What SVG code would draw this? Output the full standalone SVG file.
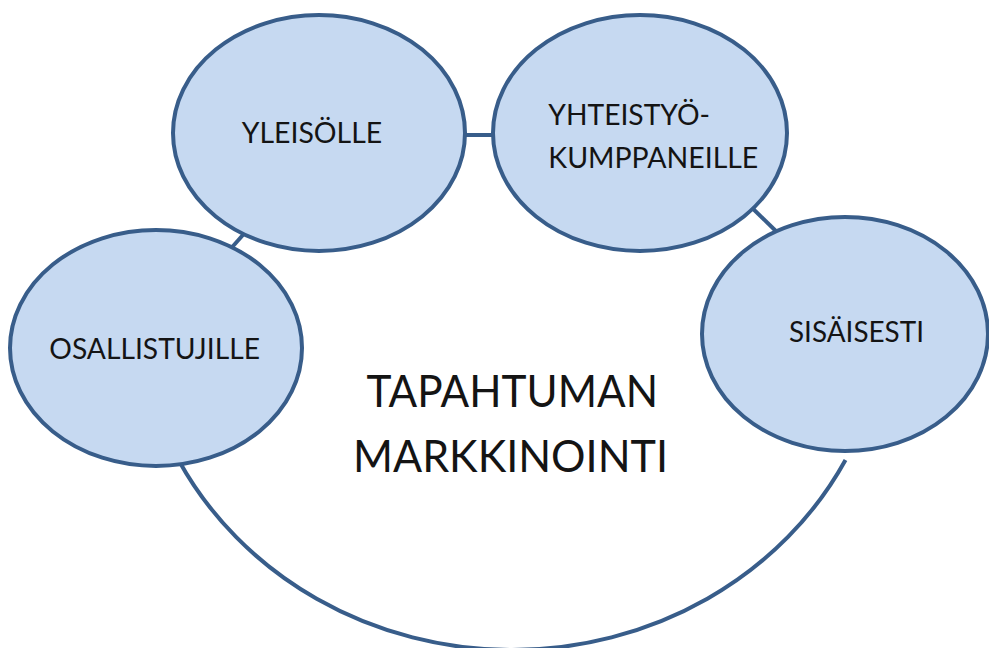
<svg xmlns="http://www.w3.org/2000/svg" width="989" height="648" viewBox="0 0 989 648">
<style>
.node ellipse{fill:#C6D9F1;stroke:#385D8A;stroke-width:4}
.conn{fill:none;stroke:#385D8A;stroke-width:4}
text{font-family:Lato,"Open Sans","Liberation Sans",sans-serif;fill:#141414}
.s{font-size:29px}
.b{font-size:44px}
</style>
<rect width="989" height="648" fill="#ffffff"/>
<g id="connectors">
<path class="conn" d="M 178.5 460 A 375 350 0 0 0 845.5 460"/>
<line class="conn" x1="455" y1="135" x2="503" y2="135"/>
<line class="conn" x1="226" y1="254" x2="250" y2="227"/>
<line class="conn" x1="745" y1="201" x2="782" y2="237"/>
</g>
<g id="center-label">
<text class="b" x="366.5" y="406.5" textLength="291.5" lengthAdjust="spacingAndGlyphs">TAPAHTUMAN</text>
<text class="b" x="353" y="471.5" textLength="315" lengthAdjust="spacingAndGlyphs">MARKKINOINTI</text>
</g>
<g id="yleisolle" class="node">
<ellipse cx="319" cy="133" rx="146" ry="118"/>
<text class="s" x="241.7" y="143" textLength="140.5" lengthAdjust="spacingAndGlyphs">YLEISÖLLE</text>
</g>
<g id="yhteistyokumppaneille" class="node">
<ellipse cx="640" cy="133" rx="147" ry="118"/>
<text class="s" x="548.3" y="125" textLength="161.7" lengthAdjust="spacingAndGlyphs">YHTEISTYÖ-</text>
<text class="s" x="548.3" y="168.3" textLength="210" lengthAdjust="spacingAndGlyphs">KUMPPANEILLE</text>
</g>
<g id="osallistujille" class="node">
<ellipse cx="156" cy="348" rx="146" ry="118"/>
<text class="s" x="49.3" y="359.3" textLength="210.7" lengthAdjust="spacingAndGlyphs">OSALLISTUJILLE</text>
</g>
<g id="sisaisesti" class="node">
<ellipse cx="845" cy="334" rx="143" ry="117"/>
<text class="s" x="789" y="341.7" textLength="135" lengthAdjust="spacingAndGlyphs">SISÄISESTI</text>
</g>
</svg>
